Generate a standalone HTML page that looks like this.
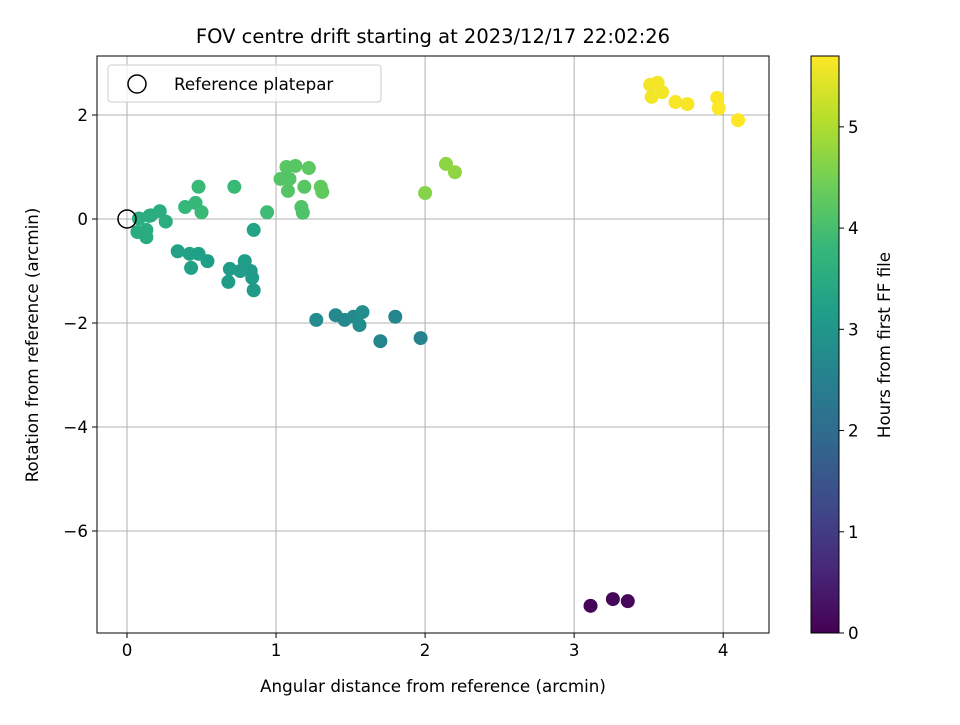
<!DOCTYPE html>
<html><head><meta charset="utf-8"><style>body{margin:0;background:#fff}svg{font-family:"DejaVu Sans","Liberation Sans",sans-serif}</style></head>
<body>
<svg id="c" width="960" height="720" xmlns="http://www.w3.org/2000/svg"></svg>
<script>
const xs=[3.11,3.26,3.36,1.27,1.40,1.46,1.52,1.56,1.58,1.70,1.80,1.97,0.34,0.42,0.48,0.54,0.43,0.69,0.79,0.83,0.84,0.68,0.85,0.85,0.76,0.08,0.15,0.22,0.26,0.07,0.13,0.13,0.16,0.48,0.39,0.46,0.50,0.72,0.94,1.07,1.13,1.22,1.03,1.09,1.08,1.19,1.30,1.31,1.17,1.18,2.14,2.20,2.00,3.51,3.56,3.59,3.52,3.68,3.76,3.96,3.97,4.10];
const ys=[-7.44,-7.31,-7.35,-1.94,-1.85,-1.94,-1.88,-2.04,-1.79,-2.35,-1.88,-2.29,-0.62,-0.67,-0.67,-0.81,-0.94,-0.96,-0.81,-1.0,-1.13,-1.21,-1.37,-0.21,-1.0,0.01,0.06,0.15,-0.05,-0.25,-0.21,-0.35,0.07,0.62,0.23,0.31,0.13,0.62,0.13,1.0,1.02,0.98,0.77,0.77,0.54,0.62,0.62,0.52,0.23,0.12,1.06,0.90,0.50,2.58,2.62,2.44,2.35,2.25,2.21,2.33,2.13,1.90];
const hrs=[0.05,0.1,0.12,2.75,2.7,2.7,2.72,2.75,2.8,2.6,2.6,2.55,3.25,3.25,3.22,3.2,3.25,3.15,3.15,3.1,3.1,3.15,3.1,3.3,3.12,3.55,3.5,3.55,3.55,3.5,3.5,3.5,3.55,3.85,3.8,3.8,3.85,3.85,3.9,4.2,4.2,4.25,4.15,4.15,4.15,4.2,4.3,4.3,4.1,4.1,4.7,4.75,4.65,5.6,5.62,5.6,5.6,5.65,5.65,5.68,5.68,5.7];
const xTicks=[0,1,2,3,4], yTicks=[2,0,-2,-4,-6], cTicks=[0,1,2,3,4,5];
const L=97,R=769,T=56,B=633,xmin=-0.2013,xmax=4.3074,ymin=-7.962,ymax=3.135,cmax=5.70;
const X=v=>L+(v-xmin)/(xmax-xmin)*(R-L), Y=v=>B-(v-ymin)/(ymax-ymin)*(B-T), CY=v=>B-v/cmax*(B-T);
const vir=[[68,1,84],[72,40,120],[62,74,137],[49,104,142],[38,130,142],[31,158,137],[53,183,121],[110,206,88],[181,222,43],[253,231,37]];
function col(h){let t=Math.max(0,Math.min(1,h/cmax))*9,i=Math.min(8,Math.floor(t)),f=t-i,a=vir[i],b=vir[i+1];return`rgb(${a.map((v,k)=>Math.round(v+(b[k]-v)*f)).join(',')})`;}
const s=document.getElementById('c'),NS="http://www.w3.org/2000/svg";
function el(t,a,txt){const e=document.createElementNS(NS,t);for(const k in a)e.setAttribute(k,a[k]);if(txt!==undefined)e.textContent=txt;s.appendChild(e);return e;}
let e;
const FS=16.7;
xTicks.forEach(v=>{e=el('line',{x1:X(v),x2:X(v),y1:T,y2:B,stroke:'#b0b0b0','stroke-width':1});
el('line',{x1:X(v),x2:X(v),y1:B,y2:B+5,stroke:'#000'});e=el('text',{x:X(v),y:B+23,'font-size':FS,'text-anchor':'middle'},String(v));});
yTicks.forEach(v=>{e=el('line',{x1:L,x2:R,y1:Y(v),y2:Y(v),stroke:'#b0b0b0','stroke-width':1});
el('line',{x1:L-5,x2:L,y1:Y(v),y2:Y(v),stroke:'#000'});e=el('text',{x:L-9,y:Y(v)+6,'font-size':FS,'text-anchor':'end'},v<0?'\u2212'+(-v):String(v));});
xs.forEach((x,i)=>{e=el('circle',{cx:X(x),cy:Y(ys[i]),r:7,fill:col(hrs[i])});});
e=el('circle',{cx:X(0),cy:Y(0),r:9,fill:'none',stroke:'#000','stroke-width':1.5});
e=el('rect',{x:L,y:T,width:R-L,height:B-T,fill:'none',stroke:'#000','stroke-width':1});
e=el('rect',{x:108,y:65,width:273,height:37,rx:3,fill:'#fff','fill-opacity':0.8,stroke:'#ccc'});
el('circle',{cx:137,cy:84,r:9,fill:'none',stroke:'#000','stroke-width':1.5});
e=el('text',{x:174,y:90,'font-size':FS},'Reference platepar');
e=el('text',{x:433,y:43,'font-size':19.5,'text-anchor':'middle'},'FOV centre drift starting at 2023/12/17 22:02:26');
e=el('text',{x:433,y:692,'font-size':FS,'text-anchor':'middle'},'Angular distance from reference (arcmin)');
e=el('text',{x:38,y:345,'font-size':FS,'text-anchor':'middle',transform:'rotate(-90 38 345)'},'Rotation from reference (arcmin)');
const defs=el('defs',{});const g=document.createElementNS(NS,'linearGradient');g.setAttribute('id','vg');g.setAttribute('x1','0');g.setAttribute('y1','1');g.setAttribute('x2','0');g.setAttribute('y2','0');
vir.forEach((c,i)=>{const st=document.createElementNS(NS,'stop');st.setAttribute('offset',i/9);st.setAttribute('stop-color',`rgb(${c.join(',')})`);g.appendChild(st);});defs.appendChild(g);
e=el('rect',{x:811,y:T,width:28,height:B-T,fill:'url(#vg)',stroke:'#000','stroke-width':1});
cTicks.forEach(v=>{el('line',{x1:839,x2:844,y1:CY(v),y2:CY(v),stroke:'#000'});e=el('text',{x:848,y:CY(v)+6,'font-size':FS},String(v));});
e=el('text',{x:890,y:345,'font-size':FS,'text-anchor':'middle',transform:'rotate(-90 890 345)'},'Hours from first FF file');
</script>
</body></html>
